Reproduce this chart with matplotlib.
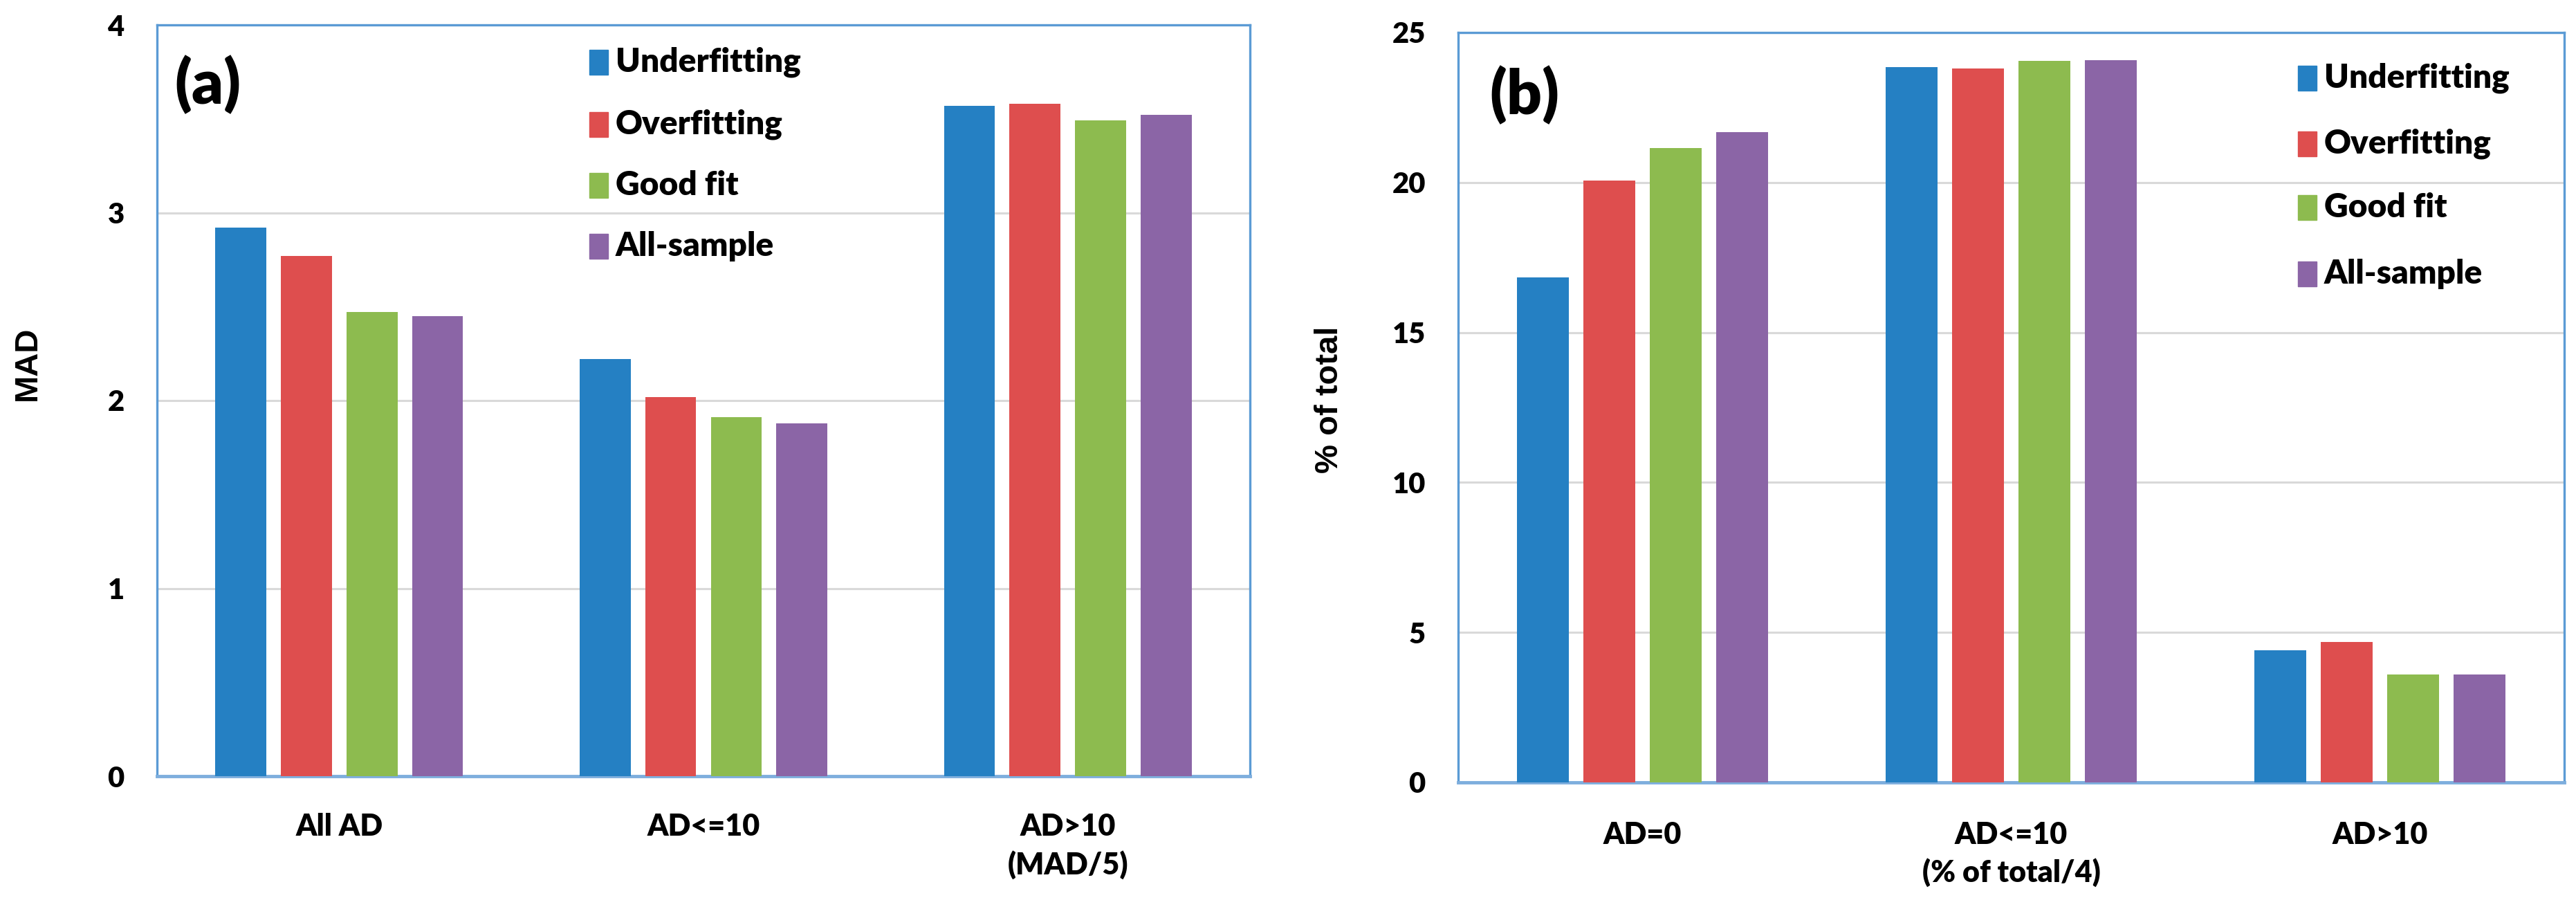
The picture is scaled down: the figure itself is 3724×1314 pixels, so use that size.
import matplotlib
matplotlib.use("Agg")
import matplotlib.pyplot as plt
from matplotlib.patches import Rectangle
import numpy as np

# ---------------- data ----------------
series = ["Underfitting", "Overfitting", "Good fit", "All-sample"]
colors = ["#2580C3", "#DE4E4E", "#8DBB4F", "#8B65A6"]

cats_a = ["All AD", "AD<=10", "AD>10\n(MAD/5)"]
underfit_a = [2.92, 2.22, 3.57]
overfit_a = [2.77, 2.02, 3.58]
goodfit_a = [2.47, 1.91, 3.49]
allsample_a = [2.45, 1.88, 3.52]

cats_b = ["AD=0", "AD<=10\n(% of total/4)", "AD>10"]
underfit_b = [16.84, 23.84, 4.41]
overfit_b = [20.07, 23.80, 4.68]
goodfit_b = [21.15, 24.05, 3.60]
allsample_b = [21.69, 24.07, 3.60]

yticks_a = [0, 1, 2, 3, 4]
yticks_b = [0, 5, 10, 15, 20, 25]

W, H = 3724, 1314
fig = plt.figure(figsize=(W / 100, H / 100), dpi=100)

def fx(px):
    return px / W

def fy(py):
    return 1 - py / H

TXT = "Lato"
frame_col = "#5B9BD5"

def make_panel(rect, cats, vals, yticks, ymax, letter, letter_xy, leg_x, leg_ys,
               ylabel, ylabel_xy, xpad):
    x0, y0, x1, y1 = rect
    ax = fig.add_axes([fx(x0), fy(y1), fx(x1) - fx(x0), fy(y0) - fy(y1)])
    x = np.arange(len(cats))
    width = 0.14
    offsets = [-0.27, -0.09, 0.09, 0.27]
    for v, c, off in zip(vals, colors, offsets):
        ax.bar(x + off, v, width=width, color=c, zorder=3, linewidth=0)
    ax.set_xlim(-0.5, len(cats) - 0.5)
    ax.set_ylim(0, ymax)
    ax.set_yticks(yticks)
    ax.set_yticklabels([str(t) for t in yticks], fontfamily=TXT,
                       fontweight="heavy", fontsize=30)
    ax.set_xticks(x)
    ax.set_xticklabels(cats, fontfamily=TXT, fontweight="heavy", fontsize=31,
                       linespacing=1.4, va="top")
    ax.tick_params(axis="both", length=0)
    ax.tick_params(axis="y", pad=34)
    ax.tick_params(axis="x", pad=xpad)
    ax.grid(axis="y", color="#D9D9D9", linewidth=2.2, zorder=0)
    for s in ax.spines.values():
        s.set_color(frame_col)
        s.set_linewidth(2.4)
    ax.spines["bottom"].set_linewidth(3.5)
    ax.spines["bottom"].set_color("#7EAEDD")
    # panel letter
    fig.text(fx(letter_xy[0]), fy(letter_xy[1]), letter, fontfamily=TXT,
             fontweight="heavy", fontsize=64, ha="left", va="center")
    # legend
    for name, c, ly in zip(series, colors, leg_ys):
        fig.patches.append(Rectangle((fx(leg_x), fy(ly + 18)), fx(27), 36 / H,
                                     transform=fig.transFigure, color=c))
        fig.text(fx(leg_x + 38), fy(ly), name, fontfamily=TXT,
                 fontweight="heavy", fontsize=34.5, ha="left", va="center")
    fig.text(fx(ylabel_xy[0]), fy(ylabel_xy[1]), ylabel,
             fontfamily="Liberation Sans", fontweight="bold", fontsize=34,
             rotation=90, ha="center", va="center")
    return ax

make_panel((227, 36, 1807, 1122), cats_a,
           [underfit_a, overfit_a, goodfit_a, allsample_a],
           yticks_a, 4, "(a)", (252, 122), 852, [90, 180, 268, 356],
           "MAD", (40, 525), 38)

make_panel((2108, 47, 3707, 1131), cats_b,
           [underfit_b, overfit_b, goodfit_b, allsample_b],
           yticks_b, 25, "(b)", (2153, 137), 3322, [113, 208, 300, 396],
           "% of total", (1922, 578), 40)

fig.savefig("out.png", dpi=100, facecolor="white")
